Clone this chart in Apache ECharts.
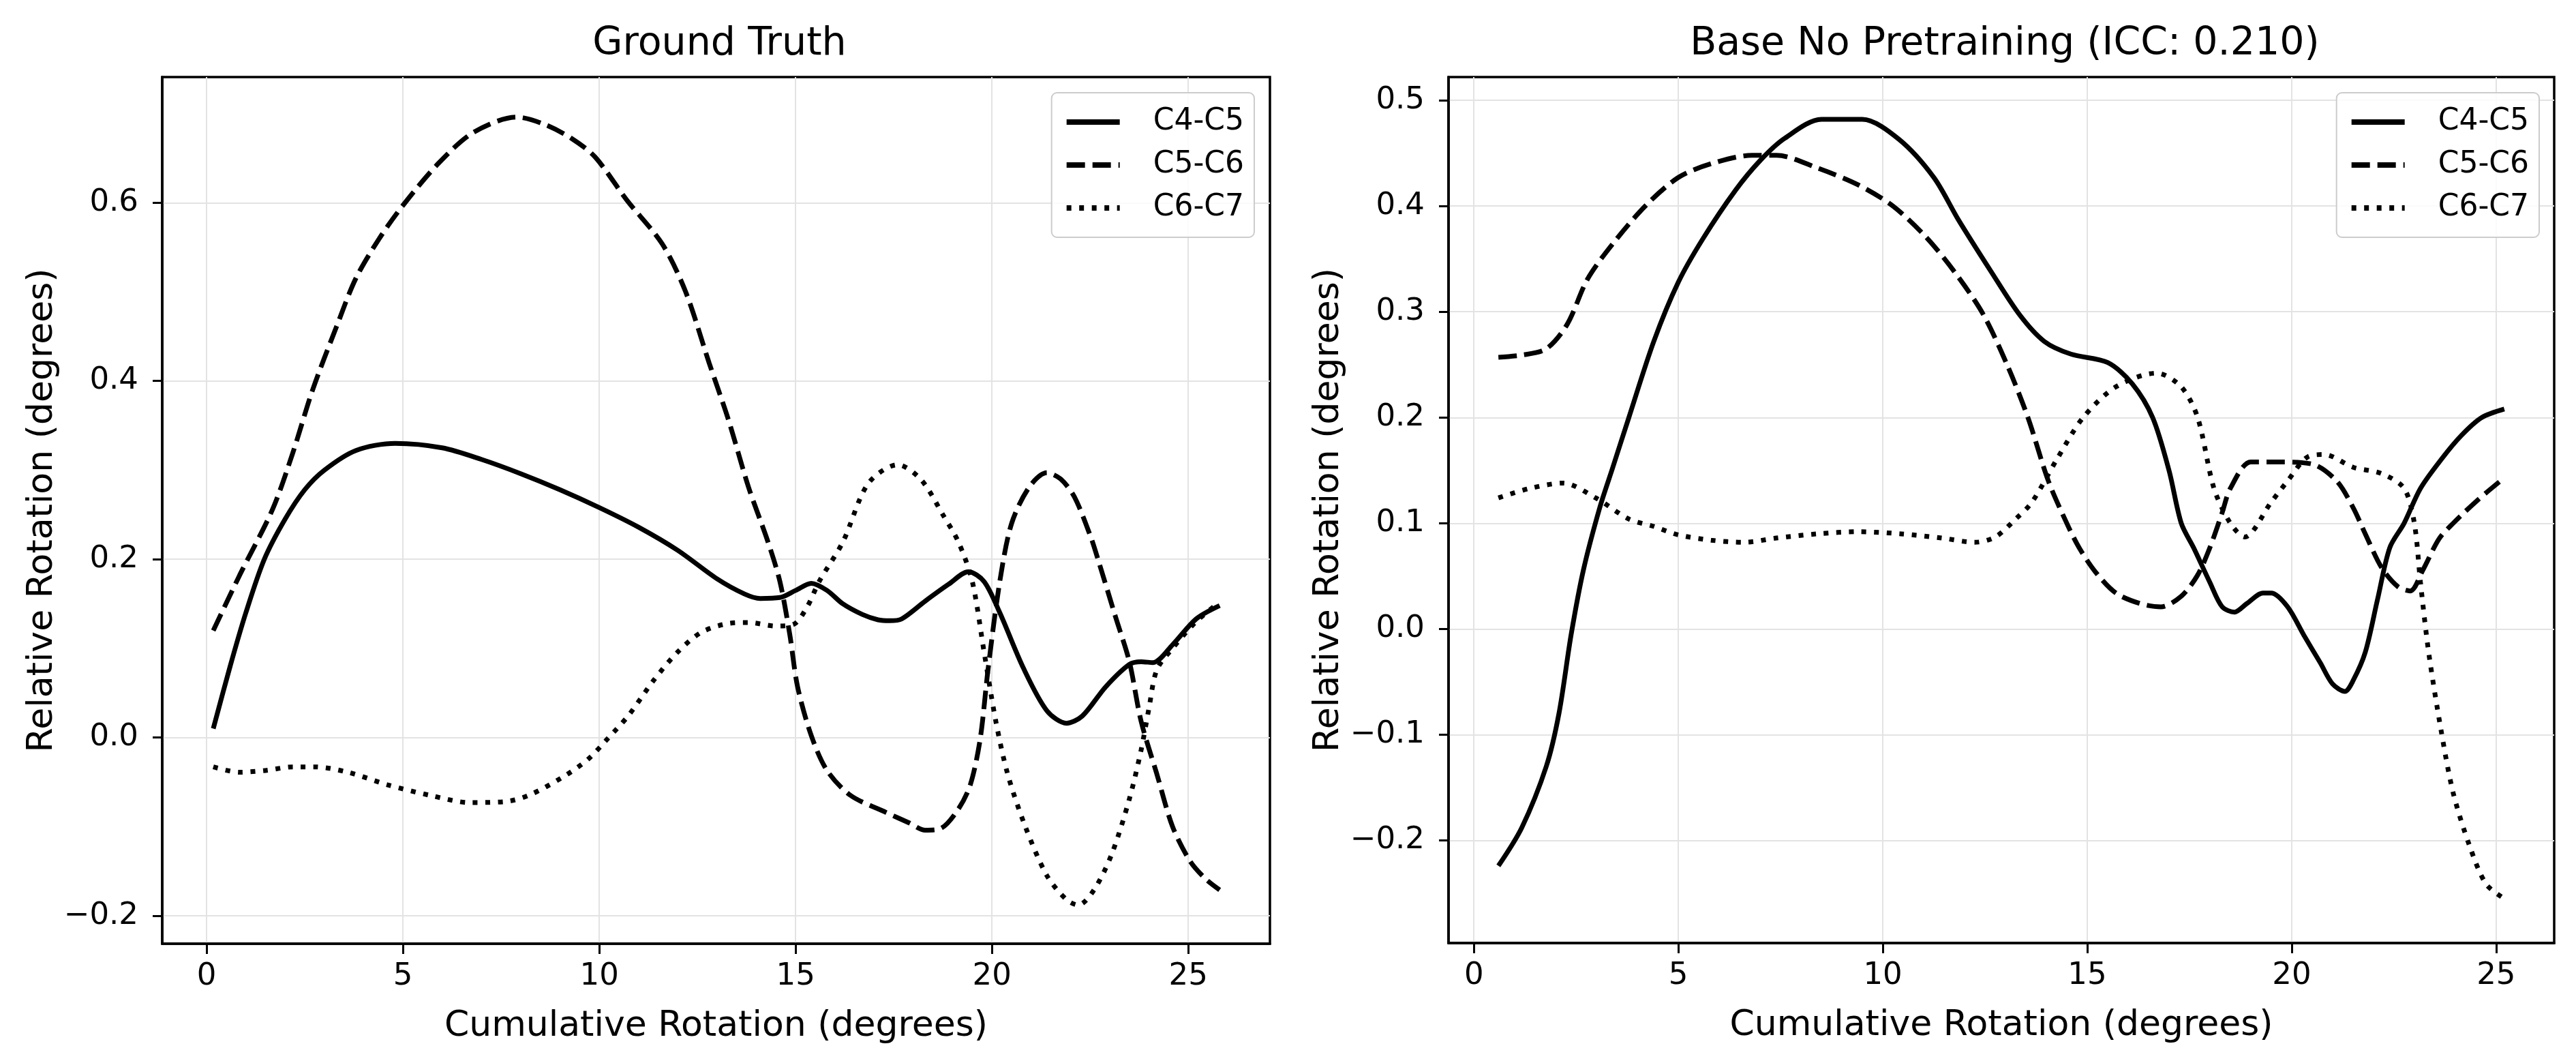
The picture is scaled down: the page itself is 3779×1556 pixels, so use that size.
<!DOCTYPE html>
<html><head><meta charset="utf-8">
<script src="https://cdn.jsdelivr.net/npm/echarts@6/dist/echarts.min.js"></script>
<style>html,body{margin:0;padding:0;background:#fff}#c{width:3779px;height:1556px}</style>
</head><body><div id="c"></div>
<script>
const seriesNames = ['C4-C5', 'C5-C6', 'C6-C7'];
const panelTitles = ['Ground Truth', 'Base No Pretraining (ICC: 0.210)'];
const xAxisTitle = 'Cumulative Rotation (degrees)';
const yAxisTitle = 'Relative Rotation (degrees)';
const xTicks = [0, 5, 10, 15, 20, 25];
const yTicksLeft = [-0.2, 0, 0.2, 0.4, 0.6];
const yTicksRight = [-0.2, -0.1, 0, 0.1, 0.2, 0.3, 0.4, 0.5];

// Ground Truth
const gtC45x = [0.17,0.6,1.0,1.47,2.0,2.5,3.0,3.8,4.8,6.0,7.0,8.0,9.0,10.0,11.0,12.0,13.0,13.7,14.1,14.6,15.0,15.4,15.8,16.2,16.7,17.1,17.4,17.7,18.3,18.9,19.4,19.8,20.2,20.8,21.4,21.9,22.3,22.9,23.5,23.8,24.1,24.6,25.2,25.8];
const gtC45y = [0.01,0.08,0.14,0.2,0.245,0.278,0.30,0.322,0.33,0.325,0.312,0.296,0.278,0.258,0.236,0.21,0.178,0.161,0.156,0.157,0.165,0.173,0.165,0.15,0.138,0.132,0.131,0.133,0.153,0.172,0.186,0.175,0.14,0.078,0.03,0.016,0.024,0.057,0.082,0.085,0.084,0.104,0.133,0.148];
const gtC56x = [0.17,0.84,1.68,2.2,2.7,3.3,3.8,4.4,5.0,5.9,6.8,7.9,8.6,9.3,9.9,10.7,11.6,12.2,12.8,13.3,13.8,14.3,14.6,14.85,15.05,15.4,15.8,16.4,17.3,17.9,18.3,18.7,19.15,19.45,19.7,19.9,20.2,20.5,20.95,21.4,21.75,22.1,22.5,22.7,23.15,23.5,23.8,24.2,24.6,25.05,25.45,25.8];
const gtC56y = [0.12,0.182,0.256,0.32,0.39,0.46,0.515,0.56,0.597,0.644,0.679,0.696,0.688,0.672,0.651,0.603,0.554,0.5,0.42,0.355,0.281,0.219,0.175,0.116,0.057,0.002,-0.037,-0.065,-0.084,-0.096,-0.104,-0.102,-0.080,-0.053,-0.002,0.076,0.175,0.24,0.281,0.297,0.29,0.27,0.227,0.2,0.135,0.085,0.018,-0.041,-0.1,-0.139,-0.159,-0.171];
const gtC67x = [0.17,0.84,1.5,2.2,2.75,3.6,4.6,5.7,6.7,7.6,8.2,9.05,9.7,10.2,10.75,11.4,12.0,12.6,13.3,13.8,14.5,14.95,15.3,15.6,16.2,16.85,17.6,18.2,18.75,19.15,19.5,19.8,20.1,20.4,20.85,21.4,21.9,22.2,22.6,23.05,23.5,23.8,24.0,24.2,24.6,25.2,25.8];
const gtC67y = [-0.033,-0.039,-0.037,-0.033,-0.033,-0.039,-0.053,-0.065,-0.073,-0.072,-0.065,-0.045,-0.025,-0.002,0.025,0.065,0.096,0.118,0.128,0.129,0.125,0.127,0.147,0.175,0.219,0.285,0.306,0.289,0.25,0.219,0.175,0.096,0.018,-0.041,-0.1,-0.155,-0.182,-0.188,-0.171,-0.131,-0.069,-0.014,0.033,0.076,0.1,0.13,0.152];

// Base No Pretraining
const bpC45x = [0.6,1.17,1.77,2.08,2.38,2.68,3.08,3.39,3.79,4.4,5.0,5.6,6.4,7.0,7.6,8.5,9.5,10.4,11.25,11.85,12.65,13.35,13.95,14.6,15.5,16.1,16.6,17.0,17.3,17.6,18.0,18.3,18.6,18.9,19.3,19.5,19.9,20.3,20.7,21.0,21.3,21.5,21.8,22.1,22.4,22.75,23.15,23.65,24.15,24.65,25.2];
const bpC45y = [-0.224,-0.188,-0.13,-0.08,-0.005,0.056,0.115,0.152,0.2,0.272,0.328,0.369,0.415,0.443,0.464,0.482,0.482,0.463,0.427,0.387,0.338,0.297,0.272,0.26,0.252,0.232,0.2,0.15,0.1,0.077,0.044,0.021,0.016,0.024,0.034,0.034,0.021,-0.006,-0.032,-0.052,-0.059,-0.049,-0.022,0.028,0.077,0.10,0.133,0.16,0.183,0.2,0.208];
const bpC56x = [0.6,1.17,1.77,2.28,2.78,3.39,4.19,5.0,5.8,6.8,7.4,8.4,9.4,10.25,11.05,11.75,12.45,13.05,13.55,14.05,14.5,14.8,15.2,15.7,16.3,16.8,17.3,17.7,18.0,18.3,18.5,19.0,19.7,20.5,21.1,21.5,21.8,22.2,22.6,22.9,23.2,23.6,23.95,24.55,25.2];
const bpC56y = [0.257,0.259,0.265,0.288,0.331,0.364,0.4,0.427,0.44,0.448,0.448,0.436,0.42,0.4,0.371,0.338,0.298,0.249,0.2,0.14,0.1,0.077,0.054,0.034,0.024,0.021,0.031,0.051,0.077,0.11,0.133,0.158,0.158,0.156,0.14,0.115,0.09,0.058,0.04,0.036,0.055,0.085,0.1,0.122,0.143];
const bpC67x = [0.6,1.37,2.18,2.98,3.79,4.4,5.0,5.8,6.6,7.4,8.4,9.4,10.45,11.45,12.25,12.75,13.25,13.65,14.25,14.9,15.7,16.7,17.3,17.7,18.1,18.5,18.85,19.5,19.9,20.4,20.8,21.5,22.2,22.75,23.0,23.15,23.35,23.65,23.95,24.35,24.75,25.2];
const bpC67y = [0.124,0.133,0.138,0.124,0.104,0.097,0.089,0.084,0.082,0.086,0.09,0.092,0.09,0.086,0.082,0.087,0.104,0.12,0.16,0.2,0.229,0.242,0.229,0.2,0.133,0.1,0.087,0.12,0.14,0.163,0.165,0.153,0.147,0.133,0.1,0.044,-0.022,-0.095,-0.155,-0.205,-0.241,-0.255];

const FONT = 'DejaVu Sans';
const LW = 7;
const dashStyles = ['solid', [27, 11], [7, 11.5]];
const zip = (xs, ys) => xs.map((x, i) => [x, ys[i]]);
const fmtY = v => (Math.round(v * 10) / 10).toFixed(1).replace('-', '\u2212');

const panels = [
  { grid: { left: 238, top: 113, width: 1625, height: 1271 }, xMin: -1.13, xMax: 27.08, yMin: -0.2314, yMax: 0.741, yTicks: yTicksLeft,
    data: [zip(gtC45x, gtC45y), zip(gtC56x, gtC56y), zip(gtC67x, gtC67y)], legendRight: 3779 - 1840 },
  { grid: { left: 2125, top: 113, width: 1622, height: 1270 }, xMin: -0.62, xMax: 26.42, yMin: -0.297, yMax: 0.522, yTicks: yTicksRight,
    data: [zip(bpC45x, bpC45y), zip(bpC56x, bpC56y), zip(bpC67x, bpC67y)], legendRight: 3779 - 3725 }
];

const option = {
  animation: false,
  backgroundColor: '#fff',
  textStyle: { fontFamily: FONT, color: '#000' },
  title: panels.map((p, i) => ({
    text: panelTitles[i], left: p.grid.left + p.grid.width / 2, textAlign: 'center', top: 32,
    textStyle: { fontFamily: FONT, fontSize: 57, fontWeight: 'normal', color: '#000' }
  })),
  legend: panels.map((p, i) => ({
    data: seriesNames, orient: 'vertical', right: p.legendRight, top: 136,
    itemWidth: 78, itemHeight: 20, itemGap: 13, padding: [18, 15, 18, 18],
    borderColor: '#cccccc', borderWidth: 2, borderRadius: 8, backgroundColor: 'rgba(255,255,255,0.85)',
    selectedMode: false, itemStyle: { opacity: 0 }, lineStyle: { width: LW + 1 },
    textStyle: { fontFamily: FONT, fontSize: 44, color: '#000', lineHeight: 50, padding: [0, 0, 0, 44] }
  })),
  grid: panels.map(p => Object.assign({ show: true, borderColor: '#000', borderWidth: 3.5, backgroundColor: 'transparent' }, p.grid)),
  xAxis: panels.map((p, i) => ({
    type: 'value', gridIndex: i, min: p.xMin, max: p.xMax,
    name: xAxisTitle, nameLocation: 'middle', nameGap: 95,
    nameTextStyle: { fontFamily: FONT, fontSize: 52, color: '#000' },
    axisLine: { show: true, onZero: false, lineStyle: { color: '#000', width: 3.5 } },
    axisTick: { show: true, customValues: xTicks, length: 15, lineStyle: { color: '#000', width: 3 } },
    axisLabel: { customValues: xTicks, fontFamily: FONT, fontSize: 45, color: '#000', margin: 26, formatter: v => String(v) },
    splitLine: { show: true, lineStyle: { color: '#e3e3e3', width: 2 } }
  })),
  yAxis: panels.map((p, i) => ({
    type: 'value', gridIndex: i, min: p.yMin, max: p.yMax,
    name: yAxisTitle, nameLocation: 'middle', nameGap: 150,
    nameTextStyle: { fontFamily: FONT, fontSize: 52, color: '#000' },
    axisLine: { show: true, onZero: false, lineStyle: { color: '#000', width: 3.5 } },
    axisTick: { show: true, customValues: p.yTicks, length: 14, lineStyle: { color: '#000', width: 3 } },
    axisLabel: { customValues: p.yTicks, fontFamily: FONT, fontSize: 45, color: '#000', margin: 35, formatter: fmtY },
    splitLine: { show: true, lineStyle: { color: '#e3e3e3', width: 2 } }
  })),
  series: []
};

panels.forEach((p, pi) => {
  seriesNames.forEach((name, si) => {
    option.series.push({
      type: 'line', name: name, xAxisIndex: pi, yAxisIndex: pi, data: p.data[si],
      showSymbol: false, symbol: 'none', smooth: 0.3, silent: true,
      itemStyle: { color: 'rgba(0,0,0,0)' },
      lineStyle: { color: '#000', width: LW, type: dashStyles[si], cap: 'butt' }
    });
  });
});

const chart = echarts.init(document.getElementById('c'), null, { renderer: 'canvas' });
chart.setOption(option);
</script>
</body></html>
